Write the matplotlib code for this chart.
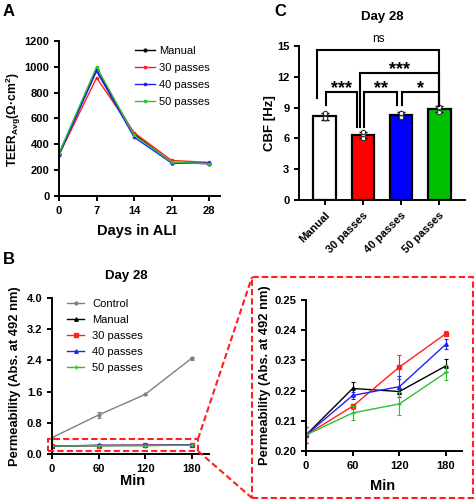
import numpy as np
import matplotlib.pyplot as plt
from matplotlib.lines import Line2D
from matplotlib.patches import Rectangle

plt.rcParams['font.family'] = ['Liberation Sans', 'DejaVu Sans']
plt.rcParams['font.weight'] = 'bold'
plt.rcParams['mathtext.fontset'] = 'custom'
plt.rcParams['mathtext.rm'] = 'Liberation Sans:bold'
plt.rcParams['mathtext.bf'] = 'Liberation Sans:bold'
plt.rcParams['mathtext.it'] = 'Liberation Sans:bold'
plt.rcParams['axes.linewidth'] = 1.4
plt.rcParams['xtick.major.width'] = 1.4
plt.rcParams['ytick.major.width'] = 1.4
plt.rcParams['xtick.major.size'] = 3.5
plt.rcParams['ytick.major.size'] = 3.5
plt.rcParams['xtick.labelsize'] = 8
plt.rcParams['ytick.labelsize'] = 8

# ---- data ----
days = [0, 7, 14, 21, 28]
teer_manual = [325, 975, 480, 258, 250]
teer_30 = [318, 915, 490, 275, 260]
teer_40 = [318, 968, 455, 255, 255]
teer_50 = [332, 1000, 470, 262, 250]

cbf_groups = ['Manual', '30 passes', '40 passes', '50 passes']
cbf_mean = [8.15, 6.35, 8.3, 8.85]
cbf_sd = [0.35, 0.3, 0.3, 0.3]
cbf_points = [[8.45, 8.0, 8.0], [6.05, 6.4, 6.6], [8.05, 8.45, 8.45], [8.6, 9.0, 9.05]]
cbf_colors = ['white', '#FF0000', '#0000FF', '#00C000']

# (x1, x2, y, left leg bottom, right leg bottom, label)
sig_brackets = [(-0.2, 3.0, 14.6, 9.9, 9.2, 'ns'),
                (0.92, 3.0, 12.35, 7.1, 9.2, '***'),
                (0.03, 0.84, 10.5, 9.25, 7.1, '***'),
                (1.03, 1.9, 10.5, 7.1, 9.25, '**'),
                (2.03, 3.0, 10.5, 9.25, 9.2, '*')]

minutes = [0, 60, 120, 180]
control = [0.42, 1.0, 1.53, 2.46]
control_sd = [0.02, 0.08, 0.02, 0.04]
perm_manual = [0.2053, 0.2207, 0.2197, 0.2282]
perm_manual_sd = [0.0025, 0.0021, 0.0008, 0.0022]
perm_30 = [0.2053, 0.2148, 0.2278, 0.2389]
perm_30_sd = [0.0025, 0.0008, 0.0040, 0.0009]
perm_40 = [0.2053, 0.2184, 0.2213, 0.2354]
perm_40_sd = [0.0025, 0.0012, 0.0035, 0.0016]
perm_50 = [0.2053, 0.2126, 0.2156, 0.2260]
perm_50_sd = [0.0025, 0.0024, 0.0038, 0.0026]

W, H = 475, 501
fig = plt.figure(figsize=(W / 100, H / 100), dpi=100)


def px_axes(l, t, r, b):
    return fig.add_axes([l / W, 1 - b / H, (r - l) / W, (b - t) / H])


def px(x, y):
    return x / W, 1 - y / H


def clean(ax):
    ax.spines['top'].set_visible(False)
    ax.spines['right'].set_visible(False)


# ---- A ----
axA = px_axes(59, 41, 220, 196)
clean(axA)
axA.plot(days, teer_manual, color='black', marker='o', ms=2, lw=1, label='Manual')
axA.plot(days, teer_30, color='#FF2020', marker='s', ms=2, lw=1, label='30 passes')
axA.plot(days, teer_40, color='#2020FF', marker='s', ms=2, lw=1, label='40 passes')
axA.plot(days, teer_50, color='#30C030', marker='s', ms=2, lw=1, label='50 passes')
axA.set_xlim(0, 30)
axA.set_ylim(0, 1200)
axA.set_xticks(days)
axA.set_yticks(range(0, 1201, 200))
axA.set_xlabel('Days in ALI', fontsize=10.5, fontweight='bold')
axA.xaxis.set_label_coords(0.48, -0.18)
axA.set_ylabel(r'TEER$_{\mathrm{Avg}}$(Ω·cm$^{\mathrm{2}}$)', fontsize=8.7, fontweight='bold')
axA.yaxis.set_label_coords(-0.224, 0.49)
axA.legend(loc='upper left', bbox_to_anchor=(0.41, 1.03), frameon=False,
           prop={'weight': 'normal', 'size': 8}, handlelength=1.8,
           labelspacing=0.63, handletextpad=0.4)

# ---- C ----
axC = px_axes(299, 46, 465, 200)
clean(axC)
xc = np.arange(len(cbf_groups))
axC.bar(xc, cbf_mean, width=0.6, color=cbf_colors, edgecolor='black', linewidth=1.6, zorder=2)
axC.errorbar(xc, cbf_mean, yerr=cbf_sd, fmt='none', ecolor='black', elinewidth=1,
             capsize=3, capthick=1, zorder=3)
for i, pts in enumerate(cbf_points):
    axC.scatter([xc[i]] * len(pts), pts, s=10, facecolor='white', edgecolor='#333333',
                linewidth=0.8, zorder=4)
for x1, x2, y, b1, b2, lab in sig_brackets:
    axC.plot([x1, x1, x2, x2], [b1, y, y, b2], color='black', lw=1.5,
             clip_on=False, zorder=5, solid_joinstyle='miter')
    if lab == 'ns':
        axC.text((x1 + x2) / 2, y + 0.78, lab, ha='center', va='baseline',
                 fontsize=8.5, fontweight='normal')
    else:
        axC.text((x1 + x2) / 2, y - 0.05, lab, ha='center', va='baseline',
                 fontsize=13, fontweight='bold')
axC.set_xlim(-0.68, 3.68)
axC.set_ylim(0, 15)
axC.set_yticks(range(0, 16, 3))
axC.set_xticks(xc)
axC.set_xticklabels(cbf_groups, rotation=45, ha='right', rotation_mode='anchor')
axC.set_ylabel('CBF [Hz]', fontsize=9.5, fontweight='bold')
axC.yaxis.set_label_coords(-0.14, 0.5)
axC.text(0.5, 1.19, 'Day 28', transform=axC.transAxes, ha='center', va='center',
         fontsize=9.5, fontweight='bold')

# ---- B left ----
axB = px_axes(52, 298, 209, 454)
clean(axB)
eb = dict(fmt='none', capsize=1.5, elinewidth=0.8, capthick=0.8)
series_B = [(control, control_sd, '#808080', 'o', 2, 'Control'),
            (perm_manual, perm_manual_sd, 'black', '^', 2.5, 'Manual'),
            (perm_30, perm_30_sd, '#FF2020', 's', 2.5, '30 passes'),
            (perm_40, perm_40_sd, '#2020FF', '^', 2.5, '40 passes'),
            (perm_50, perm_50_sd, '#30C030', '+', 3, '50 passes')]
for vals, sd, col, mk, ms, lab in series_B:
    axB.errorbar(minutes, vals, yerr=sd, ecolor=col, **eb)
    axB.plot(minutes, vals, color=col, marker=mk, ms=ms, lw=1, label=lab)
axB.set_xlim(0, 202)
axB.set_ylim(0, 4.0)
axB.set_xticks(minutes)
axB.set_yticks(np.arange(0, 4.01, 0.8))
axB.yaxis.set_major_formatter(plt.FormatStrFormatter('%.1f'))
axB.set_xlabel('Min', fontsize=10.5, fontweight='bold')
axB.xaxis.set_label_coords(0.51, -0.128)
axB.set_ylabel('Permeability (Abs. at 492 nm)', fontsize=9.3, fontweight='bold')
axB.yaxis.set_label_coords(-0.195, 0.5)
axB.text(0.47, 1.14, 'Day 28', transform=axB.transAxes, ha='center', va='center',
         fontsize=9.5, fontweight='bold')
axB.legend(loc='upper left', bbox_to_anchor=(0.03, 1.06), frameon=False,
           prop={'weight': 'normal', 'size': 8}, handlelength=1.6,
           labelspacing=0.54, handletextpad=0.7)

# ---- B inset ----
axI = px_axes(306, 300, 462, 451)
clean(axI)
for vals, sd, col, mk, ms, lab in series_B[1:]:
    axI.errorbar(minutes, vals, yerr=sd, ecolor=col, **eb)
    axI.plot(minutes, vals, color=col, marker=mk, ms=ms, lw=1)
axI.set_xlim(0, 200.5)
axI.set_ylim(0.20, 0.25)
axI.set_xticks(minutes)
axI.set_yticks(np.arange(0.20, 0.2501, 0.01))
axI.yaxis.set_major_formatter(plt.FormatStrFormatter('%.2f'))
axI.set_xlabel('Min', fontsize=10.5, fontweight='bold')
axI.xaxis.set_label_coords(0.49, -0.185)
axI.set_ylabel('Permeability (Abs. at 492 nm)', fontsize=9.3, fontweight='bold')
axI.yaxis.set_label_coords(-0.222, 0.5)

# ---- zoom frame ----
red = '#FF2020'
x0, y0 = px(48, 451)
x1, y1 = px(198, 439)
fig.add_artist(Rectangle((x0, y0), x1 - x0, y1 - y0, transform=fig.transFigure,
                         fill=False, edgecolor=red, lw=1.5, ls=(0, (3, 1.5))))
x0, y0 = px(252, 498)
x1, y1 = px(473, 277)
fig.add_artist(Rectangle((x0, y0), x1 - x0, y1 - y0, transform=fig.transFigure,
                         fill=False, edgecolor=red, lw=1.5, ls=(0, (3, 1.5))))
for (ax_, ay_), (bx_, by_) in [((198, 439), (252, 277)), ((198, 451), (252, 498))]:
    p, q = px(ax_, ay_), px(bx_, by_)
    fig.add_artist(Line2D([p[0], q[0]], [p[1], q[1]], transform=fig.transFigure,
                          color=red, lw=1.5, ls=(0, (3, 1.5))))

# ---- panel letters ----
for lab, (lx, ly) in [('A', (3, 11)), ('C', (274, 11)), ('B', (3, 260))]:
    fx, fy = px(lx, ly)
    fig.text(fx, fy, lab, fontsize=12, fontweight='bold', ha='left', va='center')

fig.savefig('out.png', dpi=100)
